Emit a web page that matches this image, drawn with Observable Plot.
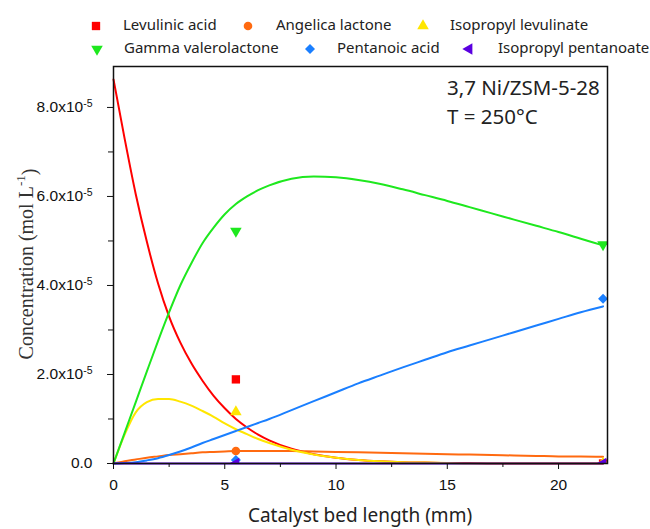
<!DOCTYPE html>
<html>
<head>
<meta charset="utf-8">
<script src="https://cdn.jsdelivr.net/npm/d3@7"></script>
<script src="https://cdn.jsdelivr.net/npm/@observablehq/plot@0.6"></script>
<style>
  html, body { margin: 0; padding: 0; background: #fff; }
  #wrap { position: relative; width: 650px; height: 529px; overflow: hidden; }
  #chart { position: absolute; left: 0; top: 0; }
  .leg { position: absolute; font-family: "Noto Sans", sans-serif; font-size: 15px; color: #222; white-space: nowrap; line-height: 1; }
  .legsym { position: absolute; }
  #note { position: absolute; left: 447px; top: 73px; font-family: "Noto Sans", sans-serif; font-size: 20.5px; color: #222; line-height: 29px; white-space: nowrap; }
</style>
</head>
<body>
<div id="wrap">
  <div id="chart"></div>
  <div id="legend"></div>
  <div id="note"><div>3,7 Ni/ZSM-5-28</div><div>T = 250°C</div></div>
</div>
<script>
// ---------- data (concentrations in units of 1e-5 mol/L) ----------
const SCALE = 1e-5;
const modelX = [0, 0.5, 1, 1.5, 2, 2.5, 3, 3.5, 4, 4.5, 5, 5.5, 6, 6.5, 7, 8, 9, 10, 11, 12, 13, 14, 15, 16, 17, 18, 19, 20, 21, 22];
const levulinicModel   = [8.63, 7.3, 6.05, 4.98, 4.05, 3.3, 2.72, 2.25, 1.86, 1.52, 1.24, 1.0, 0.81, 0.65, 0.52, 0.33, 0.21, 0.13, 0.08, 0.05, 0.03, 0.02, 0.01, 0.01, 0, 0, 0, 0, 0, 0];
const angelicaModel    = [0, 0.05, 0.09, 0.13, 0.16, 0.19, 0.21, 0.23, 0.25, 0.26, 0.27, 0.28, 0.28, 0.28, 0.28, 0.28, 0.27, 0.26, 0.25, 0.24, 0.23, 0.22, 0.21, 0.2, 0.19, 0.18, 0.17, 0.16, 0.16, 0.15];
const isoLevModel      = [0, 0.65, 1.15, 1.38, 1.45, 1.45, 1.39, 1.3, 1.18, 1.05, 0.9, 0.77, 0.66, 0.55, 0.46, 0.31, 0.2, 0.13, 0.08, 0.05, 0.03, 0.02, 0.01, 0, 0, 0, 0, 0, 0, 0];
const gvlModel         = [0, 0.69, 1.38, 2.07, 2.75, 3.4, 4.0, 4.5, 4.95, 5.3, 5.6, 5.83, 6.0, 6.14, 6.25, 6.4, 6.45, 6.43, 6.37, 6.28, 6.16, 6.03, 5.9, 5.76, 5.62, 5.48, 5.34, 5.2, 5.05, 4.9];
const pentanoicModel   = [0, 0.01, 0.03, 0.07, 0.12, 0.19, 0.27, 0.36, 0.46, 0.55, 0.64, 0.73, 0.82, 0.91, 1.0, 1.2, 1.4, 1.6, 1.8, 1.98, 2.16, 2.33, 2.5, 2.65, 2.8, 2.95, 3.1, 3.25, 3.4, 3.53];
const isoPentModel     = [0, 0, 0, 0, 0, 0, 0, 0, 0, 0, 0, 0, 0, 0, 0, 0, 0, 0, 0, 0, 0, 0, 0, 0, 0, 0, 0, 0, 0, 0];

const expX = [5.5, 22];
const levulinicExp = [1.89, 0];
const angelicaExp  = [0.28, 0];
const isoLevExp    = [1.16, 0];
const gvlExp       = [5.22, 4.92];
const pentanoicExp = [0.08, 3.7];
const isoPentExp   = [0, 0];

const seriesNames = ["Levulinic acid", "Angelica lactone", "Isopropyl levulinate", "Gamma valerolactone", "Pentanoic acid", "Isopropyl pentanoate"];
const seriesColors = ["#ff0000", "#ff6a10", "#ffe600", "#1ee81e", "#1a7fff", "#5a00e0"];

const xTicks = [0, 5, 10, 15, 20];
const xMinorTicks = [2.5, 7.5, 12.5, 17.5];
const yTicks = [0, 2, 4, 6, 8];
const yMinorTicks = [1, 3, 5, 7];
const yTickLabels = ["0.0", "2.0x10^-5", "4.0x10^-5", "6.0x10^-5", "8.0x10^-5"];

// ---------- build tables ----------
const models = [levulinicModel, angelicaModel, isoLevModel, gvlModel, pentanoicModel, isoPentModel];
const exps = [levulinicExp, angelicaExp, isoLevExp, gvlExp, pentanoicExp, isoPentExp];
const symbols = [
  {symbol: "square", rotate: 0, r: 4.7},
  {symbol: "circle", rotate: 0, r: 4.3},
  {symbol: "triangle", rotate: 0, r: 4.3},
  {symbol: "triangle", rotate: 180, r: 4.3},
  {symbol: "diamond2", rotate: 0, r: 4.5},
  {symbol: "triangle", rotate: -90, r: 4.3}
];

const lineTables = models.map(arr => arr.map((v, j) => ({x: modelX[j], y: v * SCALE})));
const pointTables = exps.map(arr => arr.map((v, j) => ({x: expX[j], y: v * SCALE})));

const marks = [];
lineTables.forEach((t, i) => {
  marks.push(Plot.line(t, {x: "x", y: "y", stroke: seriesColors[i], strokeWidth: 2, curve: "monotone-x"}));
});
pointTables.forEach((t, i) => {
  marks.push(Plot.dot(t, {x: "x", y: "y", fill: seriesColors[i], stroke: "none", symbol: symbols[i].symbol, rotate: symbols[i].rotate, r: symbols[i].r, clip: true}));
});

marks.push(
  Plot.axisX({ticks: xTicks, tickSize: 6, tickPadding: 9, label: null, fontSize: 15.5}),
  Plot.axisX({ticks: xMinorTicks, tickSize: 4, tickFormat: () => "", label: null}),
  Plot.axisY({ticks: yTicks.map(v => v * SCALE), tickSize: 6, tickPadding: 15, label: null, fontSize: 15.5,
    tickFormat: d => yTickLabels[yTicks.findIndex(v => Math.abs(v * SCALE - d) < 1e-12)]}),
  Plot.axisY({ticks: yMinorTicks.map(v => v * SCALE), tickSize: 5, tickFormat: () => "", label: null}),
  Plot.frame({stroke: "#111", strokeWidth: 1.5})
);

const chart = Plot.plot({
  width: 650,
  height: 529,
  marginLeft: 113,
  marginRight: 43,
  marginTop: 66,
  marginBottom: 66,
  style: {fontFamily: "'Liberation Sans', Arial, sans-serif", fontSize: "15px", color: "#111", background: "white"},
  x: {domain: [0, 22.2]},
  y: {domain: [0, 8.92e-5]},
  marks
});
document.getElementById("chart").appendChild(chart);

// superscript exponents in y tick labels
const svg = d3.select(chart.tagName.toLowerCase() === "svg" ? chart : chart.querySelector("svg"));
svg.selectAll('g[aria-label="y-axis tick label"] text').each(function () {
  const t = this.textContent;
  if (t.includes("^")) {
    const [base, ex] = t.split("^");
    this.textContent = base;
    d3.select(this).append("tspan").attr("dy", "-0.55em").attr("font-size", "10.5px").text(ex);
  }
});

// axis titles
const yl = svg.append("text")
  .attr("transform", "translate(28,264) rotate(-90)")
  .attr("text-anchor", "middle")
  .attr("dominant-baseline", "middle")
  .attr("font-family", "'Liberation Serif', 'Times New Roman', serif")
  .attr("font-size", "20px")
  .attr("fill", "#333");
yl.append("tspan").text("Concentration (mol L");
yl.append("tspan").attr("dy", "-0.45em").attr("font-size", "13px").text("-1");
yl.append("tspan").attr("dy", "0.45em").text(")");

svg.append("text")
  .attr("x", 360).attr("y", 517)
  .attr("text-anchor", "middle")
  .attr("dominant-baseline", "middle")
  .attr("font-family", "'Noto Sans', sans-serif")
  .attr("font-size", "19px")
  .attr("fill", "#222")
  .text("Catalyst bed length (mm)");

// ---------- legend ----------
const legendLayout = [
  {sx: 96, tx: 123, cy: 26},
  {sx: 248, tx: 276, cy: 26},
  {sx: 423, tx: 450, cy: 26},
  {sx: 97, tx: 124, cy: 49},
  {sx: 310, tx: 337, cy: 49},
  {sx: 469, tx: 498, cy: 49}
];
const legend = document.getElementById("legend");
seriesNames.forEach((name, i) => {
  const L = legendLayout[i];
  const s = symbols[i];
  const sym = d3.symbol(
    {square: d3.symbolSquare, circle: d3.symbolCircle, triangle: d3.symbolTriangle, diamond2: d3.symbolDiamond2}[s.symbol],
    Math.PI * s.r * s.r
  )();
  const sv = d3.create("svg").attr("class", "legsym").attr("width", 16).attr("height", 16)
    .style("left", (L.sx - 8) + "px").style("top", (L.cy - 8) + "px");
  sv.append("path").attr("d", sym).attr("fill", seriesColors[i]).attr("transform", `translate(8,8) rotate(${s.rotate})`);
  legend.appendChild(sv.node());
  const lab = document.createElement("div");
  lab.className = "leg";
  lab.textContent = name;
  lab.style.left = L.tx + "px";
  lab.style.top = (L.cy - 9) + "px";
  legend.appendChild(lab);
});
</script>
</body>
</html>
